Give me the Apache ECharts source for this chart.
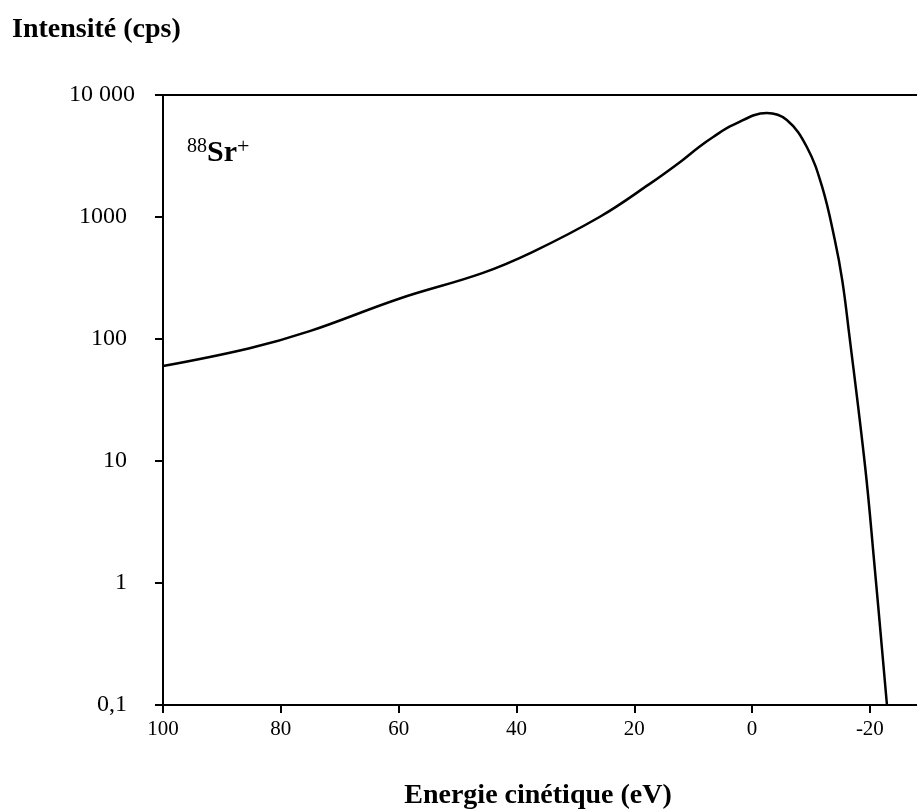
<!DOCTYPE html>
<html>
<head>
<meta charset="utf-8">
<script src="https://cdn.jsdelivr.net/npm/echarts@6/dist/echarts.min.js"></script>
<style>
  html, body { margin: 0; padding: 0; background: #fff; }
  #chart { width: 917px; height: 810px; }
</style>
</head>
<body>
<div id="chart"></div>
<script>
// Kinetic energy (eV) and measured intensity (cps) for 88Sr+
const energy = [100, 85.3, 75.1, 59.8, 45.8, 37.3, 25.9, 17.5, 12.2, 9.0, 6.6, 3.2, -2.5, -5.9, -9.3, -11.9, -14.05, -15.3, -16.4, -19.2, -20.7, -22.9];
const intensity = [60, 84, 116, 215, 347, 516, 1000, 1850, 2825, 3750, 4530, 5680, 7110, 6240, 3750, 1763, 647, 305, 119, 8.93, 1.55, 0.1];

const xTicks = [100, 80, 60, 40, 20, 0, -20];
const yTicks = [0.1, 1, 10, 100, 1000, 10000];
const yTickText = { 0.1: '0,1', 1: '1', 10: '10', 100: '100', 1000: '1000', 10000: '10 000' };

const serif = '"Liberation Serif", "DejaVu Serif", serif';

const chart = echarts.init(document.getElementById('chart'), null, { renderer: 'canvas' });

const points = energy.map((e, i) => [e, intensity[i]]);

chart.setOption({
  animation: false,
  backgroundColor: '#ffffff',
  grid: { left: 163, right: 0, top: 95, bottom: 105 },
  xAxis: [
    {
      type: 'value', position: 'bottom', inverse: true, min: -28, max: 100,
      axisLine: { show: true, onZero: false, lineStyle: { color: '#000', width: 2 } },
      axisTick: { show: true, inside: false, length: 8, customValues: xTicks, lineStyle: { color: '#000', width: 2 } },
      axisLabel: {
        customValues: xTicks, margin: 14,
        color: '#000', fontFamily: serif, fontSize: 21
      },
      splitLine: { show: false }
    },
    {
      type: 'value', position: 'top', inverse: true, min: -28, max: 100,
      axisLine: { show: true, onZero: false, lineStyle: { color: '#000', width: 2 } },
      axisTick: { show: false },
      axisLabel: { show: false },
      splitLine: { show: false }
    }
  ],
  yAxis: {
    type: 'log', logBase: 10, min: 0.1, max: 10000,
    axisLine: { show: true, onZero: false, lineStyle: { color: '#000', width: 2 } },
    axisTick: { show: true, inside: false, length: 8, customValues: yTicks, lineStyle: { color: '#000', width: 2 } },
    axisLabel: {
      customValues: yTicks, margin: 28,
      color: '#000', fontFamily: serif, fontSize: 24,
      formatter: v => v === 10000 ? '{w|' + yTickText[v] + '}' : '{n|' + (yTickText[v] !== undefined ? yTickText[v] : String(v)) + '}',
      rich: {
        w: { fontFamily: serif, fontSize: 24, color: '#000', padding: [0, 0, 0, 0] },
        n: { fontFamily: serif, fontSize: 24, color: '#000', padding: [0, 8, 0, 0] }
      }
    },
    splitLine: { show: false },
    minorTick: { show: false }
  },
  graphic: [
    {
      type: 'text', x: 12, y: 16,
      style: { text: 'Intensité (cps)', font: 'bold 28px ' + serif, fill: '#000', textAlign: 'left', textVerticalAlign: 'top' }
    },
    {
      type: 'text', x: 538, y: 782,
      style: { text: 'Energie cinétique (eV)', font: 'bold 28px ' + serif, fill: '#000', textAlign: 'center', textVerticalAlign: 'top' }
    },
    {
      type: 'text', x: 187, y: 136,
      style: {
        text: '{sup|88}{b|Sr}{sup2|+}',
        rich: {
          sup: { fontFamily: serif, fontSize: 20, fill: '#000', padding: [0, 0, 12, 0] },
          b: { fontFamily: serif, fontSize: 30, fontWeight: 'bold', fill: '#000' },
          sup2: { fontFamily: serif, fontSize: 22, fill: '#000', padding: [0, 0, 12, 0] }
        }
      }
    }
  ],
  series: [
    {
      type: 'line', xAxisIndex: 0, data: points,
      smooth: 0.4, showSymbol: false, symbol: 'none',
      lineStyle: { color: '#000', width: 2.5 },
      clip: true
    }
  ]
});
</script>
</body>
</html>
